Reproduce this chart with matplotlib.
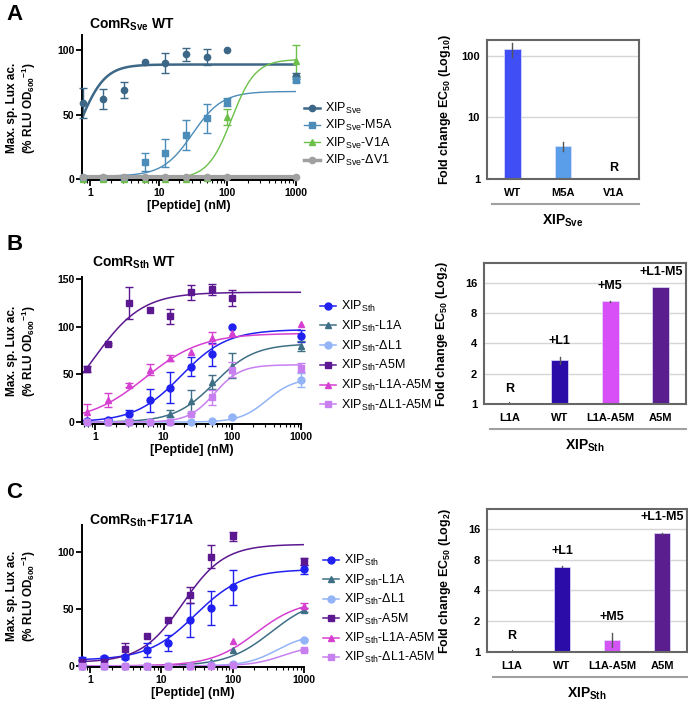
import numpy as np
import matplotlib.pyplot as plt
from matplotlib.lines import Line2D

plt.rcParams['font.family'] = ['Liberation Sans', 'DejaVu Sans']
plt.rcParams['mathtext.fontset'] = 'custom'
plt.rcParams['mathtext.rm'] = 'Liberation Sans'
plt.rcParams['mathtext.bf'] = 'Liberation Sans:bold'
plt.rcParams['mathtext.default'] = 'regular'

# peptide concentrations (nM)
dose = [0.78, 1.5625, 3.125, 6.25, 12.5, 25, 50, 100, 1000]

# ---- A: ComR_Sve WT, response (%), SD, and fit (bottom, top, EC50, hill)
sve_labels = ['XIP$_{Sve}$', 'XIP$_{Sve}$-M5A', 'XIP$_{Sve}$-V1A', 'XIP$_{Sve}$-ΔV1']
sve_wt = [59, 62, 69, 91, 90, 97, 95, 100, 80]
sve_wt_sd = [12, 8, 6, 0, 8, 5, 6, 0, 2]
sve_m5a = [0.5, 0.5, 0.5, 13, 20, 34, 47, 60, 77]
sve_m5a_sd = [0, 0, 0, 7, 11, 12, 11, 3, 2]
sve_v1a = [0, 0, 0, 0, 0, 0, 0.5, 48, 92]
sve_v1a_sd = [0, 0, 0, 0, 0, 0, 0, 6, 12]
sve_dv1 = [1, 1, 1, 1, 1, 1, 1, 1, 1]
sve_dv1_sd = [0, 0, 0, 0, 0, 0, 0, 0, 0]
sve_fits = [(0, 89, 0.72, 2.4), (2, 68, 31, 2.0), (0, 93, 115, 2.5), (1, 1, 1, 1)]

# ---- B: ComR_Sth WT
sth_labels = ['XIP$_{Sth}$', 'XIP$_{Sth}$-L1A', 'XIP$_{Sth}$-ΔL1',
              'XIP$_{Sth}$-A5M', 'XIP$_{Sth}$-L1A-A5M', 'XIP$_{Sth}$-ΔL1-A5M']
wt_sth = [1, 2, 8, 23, 36, 58, 71, 100, 90]
wt_sth_sd = [1, 1, 5, 12, 16, 10, 12, 0, 6]
wt_l1a = [0, 0, 0.5, 1, 9, 22, 42, 59, 80]
wt_l1a_sd = [0, 0, 0, 0, 4, 12, 7, 13, 5]
wt_dl1 = [0, 0, 0, 0, 0, 0, 1, 5, 44]
wt_dl1_sd = [0, 0, 0, 0, 0, 0, 0, 1, 7]
wt_a5m = [56, 82, 125, 117, 111, 136, 139, 130, np.nan]
wt_a5m_sd = [3, 1, 17, 0, 8, 8, 6, 8, 0]
wt_l1a_a5m = [11, 23, 39, 55, 67, 73, 88, 93, 103]
wt_l1a_a5m_sd = [8, 7, 2, 6, 3, 0, 6, 0, 0]
wt_dl1_a5m = [0, 0, 0, 0, 0, 8, 26, 55, 57]
wt_dl1_a5m_sd = [0, 0, 0, 0, 0, 0, 8, 8, 5]
wt_fits = [(0, 97, 18, 1.3), (0, 82, 55, 1.5), (0, 46, 320, 2.2),
           (0, 136, 1.0, 1.25), (0, 93, 5.4, 1.05), (0, 60, 55, 2.3)]

# ---- C: ComR_Sth-F171A
f_sth = [5, 7, 8, 14, 20, 40, 51, 69, 85]
f_sth_sd = [3, 2, 2, 6, 7, 15, 15, 15, 4]
f_l1a = [0, 0, 0, 0, 0, 0.5, 3, 14, 49]
f_l1a_sd = [0, 0, 0, 0, 0, 0, 0, 0, 2]
f_dl1 = [0, 0, 0, 0, 0, 0, 0.5, 1.5, 23]
f_dl1_sd = [0, 0, 0, 0, 0, 0, 0, 0, 1]
f_a5m = [3, 3, 15, 26, 40, 62, 96, 114, 92]
f_a5m_sd = [0, 0, 5, 0, 0, 7, 10, 4, 3]
f_l1a_a5m = [0, 0, 0, 0, 0, 0, 1, 22, 53]
f_l1a_a5m_sd = [0, 0, 0, 0, 0, 0, 0, 0, 2]
f_dl1_a5m = [0, 0, 0, 0, 0, 0, 0, 0.5, 14]
f_dl1_a5m_sd = [0, 0, 0, 0, 0, 0, 0, 0, 1]
f_fits = [(5, 85, 30, 1.3), (0, 60, 350, 1.4), (0, 28, 420, 2.0),
          (3, 107, 20, 1.5), (0, 58, 212, 1.39), (0, 18, 500, 2.0)]

# ---- fold change EC50 bars
sve_bar_names = ['WT', 'M5A', 'V1A']
sve_fold = [128, 3.45, np.nan]
sve_fold_lo = [96, 2.8, np.nan]
sve_fold_hi = [162, 4.05, np.nan]
sve_tags = ['', '', 'R']

sth_bar_names = ['L1A', 'WT', 'L1A-A5M', 'A5M']
wt_fold = [np.nan, 2.7, 10.4, 14.4]
wt_fold_lo = [np.nan, 2.5, 10.3, 14.3]
wt_fold_hi = [np.nan, 2.95, 10.5, 14.5]
f_fold = [np.nan, 6.8, 1.3, 14.5]
f_fold_lo = [np.nan, 6.7, 1.12, 14.4]
f_fold_hi = [np.nan, 6.9, 1.55, 14.6]
sth_tags = ['R', '+L1', '+M5', '+L1-M5']

sve_colors = ['#3d6787', '#4b8cb8', '#6cc04a', '#a0a0a0']
sve_markers = ['o', 's', '^', 'o']
sve_lw = [1.8, 1.0, 1.0, 3.0]
sth_colors = ['#2020f0', '#3e6f85', '#93b4f7', '#5b1890', '#d640d0', '#c880f0']
sth_markers = ['o', '^', 'o', 's', '^', 's']

W, H = 688, 704
fig = plt.figure(figsize=(W / 100, H / 100), dpi=100)


def px(l, t, r, b):
    return [l / W, 1 - b / H, (r - l) / W, (b - t) / H]


def dose_panel(rect, series, errs, fits, colors, markers, lws, ms, xmin, ylim, yticks):
    ax = fig.add_axes(rect)
    xs = np.logspace(np.log10(xmin), 3, 300)
    for y, e, f, c, mk, lw in zip(series, errs, fits, colors, markers, lws):
        bottom, top, ec50, hill = f
        ax.plot(xs, bottom + (top - bottom) / (1 + (ec50 / xs) ** hill), color=c, lw=lw, zorder=2)
        e = np.array(e, dtype=float)
        e[e <= 0] = np.nan
        ax.errorbar(dose, y, yerr=e, fmt=mk, color=c, ms=ms, capsize=3,
                    elinewidth=1, capthick=1, zorder=3, clip_on=False)
    ax.set_xscale('log')
    ax.set_xlim(xmin, 1000)
    ax.set_ylim(*ylim)
    ax.set_xticks([1, 10, 100, 1000], ['1', '10', '100', '1000'])
    ax.set_yticks(yticks, [str(t) for t in yticks])
    ax.spines[['top', 'right']].set_visible(False)
    ax.spines[['left', 'bottom']].set_linewidth(1.4)
    ax.tick_params(which='major', length=4, width=1.3, labelsize=7.5, pad=1.5)
    ax.tick_params(which='minor', length=2, width=0.8)
    for lab in ax.get_xticklabels() + ax.get_yticklabels():
        lab.set_fontweight('bold')
    ax.set_xlabel('[Peptide] (nM)', fontsize=9, fontweight='bold', labelpad=2)
    ax.set_ylabel('Max. sp. Lux ac.\n(% RLU OD$_{600}$$^{-1}$)', fontsize=8.5,
                  fontweight='bold', linespacing=1.1)
    ax.yaxis.set_label_coords(-44 / (rect[2] * W), 0.5)
    return ax


def fold_panel(rect, names, vals, lo, hi, colors, tags, base, yticks, ymax, group):
    ax = fig.add_axes(rect)
    ax.set_yscale('log', base=base)
    x = np.arange(len(names))
    vals = np.array(vals)
    for i in x:
        if np.isnan(vals[i]):
            ax.plot([i, i], [1, 1.04], color='#555555', lw=0.8)
            top = 1
        else:
            ax.bar(i, vals[i] - 1, bottom=1, width=0.33, color=colors[i],
                   edgecolor='#e0e0ff', lw=0.5, zorder=2)
            ax.plot([i, i], [lo[i], hi[i]], color='#555555', lw=1, zorder=3)
            top = hi[i]
        if tags[i]:
            ax.text(i, top * (1.5 if base == 10 else 1.42), tags[i], ha='center', va='center',
                    fontsize=9, fontweight='bold')
    ax.set_xlim(-0.5, len(names) - 0.5)
    ax.set_ylim(1, ymax)
    ax.set_yticks(yticks, [str(t) for t in yticks])
    ax.yaxis.set_minor_locator(plt.NullLocator())
    ax.set_xticks(x, names)
    ax.tick_params(length=0, labelsize=8, pad=5)
    ax.tick_params(axis='x', pad=6.5)
    for lab in ax.get_xticklabels() + ax.get_yticklabels():
        lab.set_fontweight('bold')
    ax.yaxis.grid(True, color='#d5d5d5', lw=1)
    ax.set_axisbelow(True)
    for s in ax.spines.values():
        s.set_color('#666666')
        s.set_linewidth(1.5)
    ax.set_ylabel('Fold change EC$_{50}$ (Log$_{%d}$)' % base, fontsize=9, fontweight='bold')
    ax.yaxis.set_label_coords(-34 / (rect[2] * W), 0.5)
    hpx = rect[3] * H
    ax.add_line(Line2D([0.03, 1.0], [-25 / hpx, -25 / hpx], transform=ax.transAxes,
                       color='#a0a0a0', lw=1.5, clip_on=False))
    ax.text(0.5, -42 / hpx, group, transform=ax.transAxes, ha='center', va='center',
            fontsize=10, fontweight='bold')
    return ax


def add_legend(labels, colors, markers, lws, ms, x, y, spacing):
    handles = [Line2D([], [], color=c, marker=m, lw=min(lw, 2.5), ms=ms)
               for c, m, lw in zip(colors, markers, lws)]
    fig.legend(handles, labels, loc='upper left', bbox_to_anchor=(x / W, 1 - y / H),
               frameon=False, fontsize=9, handlelength=1.3, handletextpad=0.4,
               labelspacing=spacing, borderpad=0, borderaxespad=0)


# panel A
dose_panel(px(82, 35, 296, 180), [sve_wt, sve_m5a, sve_v1a, sve_dv1],
           [sve_wt_sd, sve_m5a_sd, sve_v1a_sd, sve_dv1_sd], sve_fits,
           sve_colors, sve_markers, sve_lw, 4.5, 0.76, (-1, 112), [0, 50, 100])
add_legend(sve_labels, sve_colors, sve_markers, sve_lw, 4.5, 304, 101, 0.18)
fold_panel(px(487, 40, 639, 179), sve_bar_names, sve_fold, sve_fold_lo, sve_fold_hi,
           ['#3f4ff5', '#5a9de8', '#555555'], sve_tags, 10, [1, 10, 100], 181, 'XIP$_{Sve}$')

# panel B
sth_lw = [1.1] * 6
dose_panel(px(82, 277, 301, 424),
           [wt_sth, wt_l1a, wt_dl1, wt_a5m, wt_l1a_a5m, wt_dl1_a5m],
           [wt_sth_sd, wt_l1a_sd, wt_dl1_sd, wt_a5m_sd, wt_l1a_a5m_sd, wt_dl1_a5m_sd],
           wt_fits, sth_colors, sth_markers, sth_lw, 5, 0.65, (-2, 152), [0, 50, 100, 150])
add_legend(sth_labels, sth_colors, sth_markers, sth_lw, 5, 320, 299, 0.37)
fold_panel(px(484, 263, 686, 404), sth_bar_names, wt_fold, wt_fold_lo, wt_fold_hi,
           ['#555555', '#2b0ca8', '#d94ff7', '#5a1e8e'], sth_tags, 2, [1, 2, 4, 8, 16], 25,
           'XIP$_{Sth}$')

# panel C
dose_panel(px(82, 525, 304, 667),
           [f_sth, f_l1a, f_dl1, f_a5m, f_l1a_a5m, f_dl1_a5m],
           [f_sth_sd, f_l1a_sd, f_dl1_sd, f_a5m_sd, f_l1a_a5m_sd, f_dl1_a5m_sd],
           f_fits, sth_colors, sth_markers, sth_lw, 5, 0.77, (-1, 124), [0, 50, 100])
add_legend(sth_labels, sth_colors, sth_markers, sth_lw, 5, 323, 553, 0.35)
fold_panel(px(487, 509, 687, 652), sth_bar_names, f_fold, f_fold_lo, f_fold_hi,
           ['#555555', '#2b0ca8', '#d454f5', '#5a1e8e'], sth_tags, 2, [1, 2, 4, 8, 16], 25,
           'XIP$_{Sth}$')

# titles and panel letters
fig.text(89 / W, 1 - 25 / H, 'ComR$_{Sve}$ WT', fontsize=10, fontweight='bold', va='center')
fig.text(92 / W, 1 - 263 / H, 'ComR$_{Sth}$ WT', fontsize=10, fontweight='bold', va='center')
fig.text(89 / W, 1 - 521 / H, 'ComR$_{Sth}$-F171A', fontsize=10, fontweight='bold', va='center')
for letter, y in [('A', 15), ('B', 244), ('C', 493)]:
    fig.text(6 / W, 1 - y / H, letter, fontsize=16, fontweight='bold', va='center')

fig.savefig('out.png', dpi=100)
